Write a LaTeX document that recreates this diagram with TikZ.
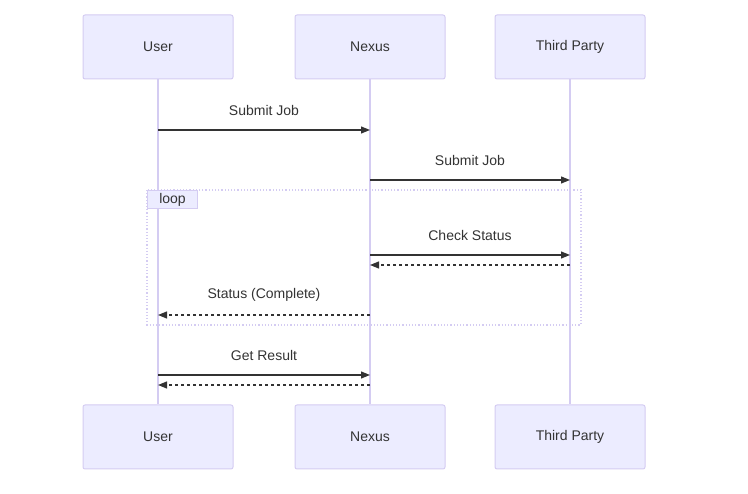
\documentclass[tikz,border=0pt]{standalone}
\usepackage{fontspec}
\setmainfont{Liberation Sans}
\usetikzlibrary{positioning, arrows.meta}
\definecolor{actfill}{HTML}{ECECFF}
\definecolor{actline}{HTML}{D4CCF2}
\definecolor{msgline}{HTML}{333333}
\begin{document}
\begin{tikzpicture}[x=1pt, y=-1pt, every node/.style={font=\fontsize{14}{16}\selectfont, text=msgline}]
\useasboundingbox (0,0) rectangle (748,494);

% --- Actor boxes ---
\tikzset{actor/.style={fill=actfill, draw=actline, line width=1pt, rounded corners=2pt, minimum width=150pt, minimum height=64pt},
  msg/.style={draw=msgline, line width=1.2pt, -{Triangle[length=9pt,width=7pt]}},
  reply/.style={msg, dashed}}
\node[actor] (userT) at (158, 47) {User};
\node[actor] (nexusT) at (370, 47) {Nexus};
\node[actor] (thirdT) at (570, 47) {Third Party};
\node[actor] (userB) at (158, 437) {User};
\node[actor] (nexusB) at (370, 437) {Nexus};
\node[actor] (thirdB) at (570, 437) {Third Party};

% --- Lifelines ---
\draw[actline, line width=1.2pt] (userT) -- (userB);
\draw[actline, line width=1.2pt] (nexusT) -- (nexusB);
\draw[actline, line width=1.2pt] (thirdT) -- (thirdB);

% --- Loop frame ---
\draw[actline, line width=1.2pt, dotted] (147,190) rectangle (581,325);
\node[fill=actfill, draw=actline, line width=1pt, inner sep=0pt, minimum width=50pt, minimum height=18pt, anchor=north west] (loop) at (147,190) {loop};

% --- Messages ---
\coordinate (u1) at (158,130); \coordinate (n1) at (370,130);
\coordinate (n2) at (370,180); \coordinate (t2) at (570,180);
\coordinate (n3) at (370,255); \coordinate (t3) at (570,255);
\coordinate (t4) at (570,265); \coordinate (n4) at (370,265);
\coordinate (n5) at (370,315); \coordinate (u5) at (158,315);
\coordinate (u6) at (158,375); \coordinate (n6) at (370,375);
\coordinate (n7) at (370,385); \coordinate (u7) at (158,385);

\draw[msg] (u1) -- (n1) node[midway, above=10pt] (lab1) {Submit Job};
\draw[msg] (n2) -- (t2) node[midway, above=10pt] (lab2) {Submit Job};
\draw[msg] (n3) -- (t3) node[midway, above=10pt] (lab3) {Check Status};
\draw[reply] (t4) -- (n4);
\draw[reply] (n5) -- (u5) node[midway, above=10pt] (lab5) {Status (Complete)};
\draw[msg] (u6) -- (n6) node[midway, above=10pt] (lab6) {Get Result};
\draw[reply] (n7) -- (u7);

\end{tikzpicture}
\end{document}
